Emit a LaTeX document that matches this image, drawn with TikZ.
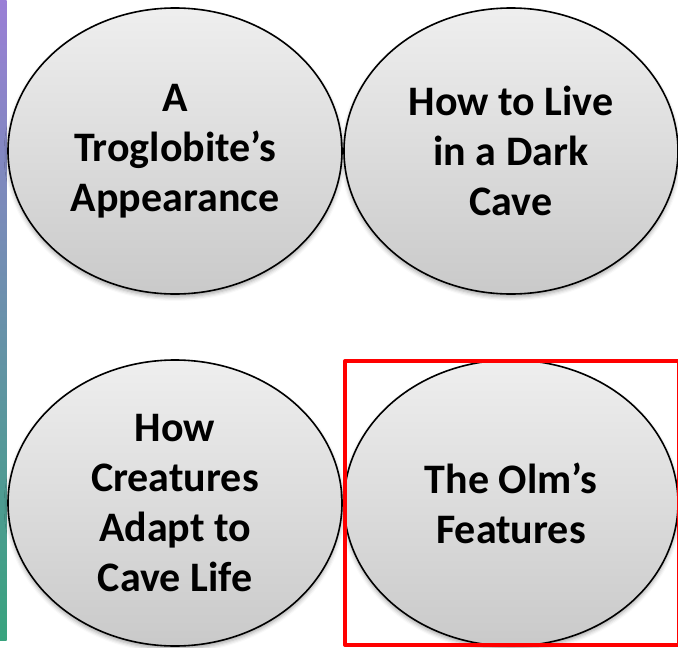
\documentclass[tikz,border=0pt]{standalone}
\usepackage{fontspec}
\setmainfont{Carlito}
\usetikzlibrary{shapes.geometric,shadows.blur}
\definecolor{bandhaut}{HTML}{9A7FD6}
\definecolor{bandmilieu}{HTML}{A08CC4}
\definecolor{bandbas}{HTML}{38A37E}

\begin{document}
\begin{tikzpicture}[line cap=round,line join=round,x=1pt,y=-1pt,
	bulle/.style={ellipse,draw=black,line width=1.6pt,top color=gray!13,bottom color=gray!42,
		blur shadow={shadow xshift=0pt,shadow yshift=-3pt,shadow blur radius=4pt,shadow opacity=35},
		minimum width=334pt,minimum height=286pt,inner sep=0pt,align=center,
		font=\bfseries\fontsize{42}{50}\selectfont}]
		\useasboundingbox (0,0) rectangle (678,648);
		% bande a gauche
		\shade[top color=bandhaut,middle color=bandmilieu,bottom color=bandbas] (0,0) rectangle (6.5,640);
		% Ligne 1
		\node[bulle] (aspect) at (175,151) {A\\Troglobite’s\\Appearance};
		\node[bulle] (grotte) at (511,151) {How to Live\\in a Dark\\Cave};
		% Ligne 2
		\node[bulle] (adapt) at (175,503) {How\\Creatures\\Adapt to\\Cave Life};
		\node[bulle] (olm) at (511,503) {The Olm’s\\Features};
		%cadre rouge
		\draw[red,line width=4pt,line cap=butt] (345,361) rectangle (678.5,645);
\end{tikzpicture}
\end{document}
